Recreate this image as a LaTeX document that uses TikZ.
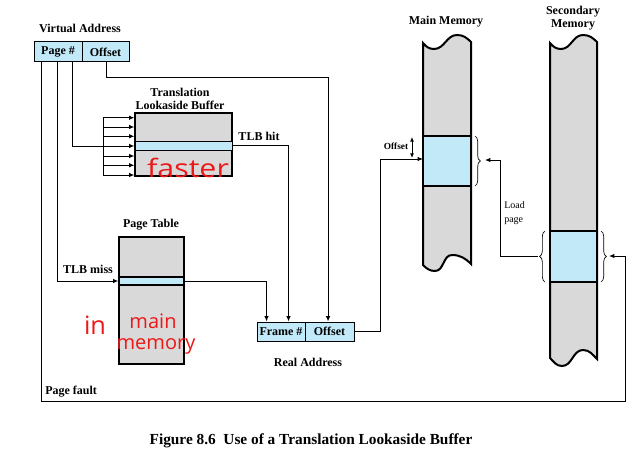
\documentclass[tikz,border=0pt]{standalone}
\usepackage{fontspec}
\setmainfont{Liberation Serif}
\newfontfamily\handfont{Open Sans}
\usetikzlibrary{arrows.meta,decorations.pathreplacing}
\definecolor{cellblue}{RGB}{193,233,248}
\definecolor{memgray}{RGB}{217,217,217}
\definecolor{inkred}{RGB}{236,24,24}
\begin{document}
\begin{tikzpicture}[x=0.75pt,y=-0.75pt,
  conn/.style={line width=0.75pt},
  arr/.style={-{Latex[length=4pt,width=3.4pt]}},
  lbl/.style={font=\fontsize{9}{10.5}\selectfont\bfseries, inner sep=0pt},
  small/.style={font=\fontsize{7.5}{8.5}\selectfont, inner sep=0pt},
  cell/.style={draw, line width=0.75pt, fill=cellblue, minimum height=15pt, inner sep=0pt, font=\fontsize{9}{10}\selectfont\bfseries},
  rowcell/.style={draw, fill=cellblue, inner sep=0pt},
  tablebox/.style={draw, fill=memgray, inner sep=0pt},
  memcol/.style={fill=memgray, draw, line width=1.5pt},
  bracestyle/.style={decorate, decoration={brace, amplitude=4pt}, line width=0.5pt},
  hand/.style={text=inkred, inner sep=0pt, font=\handfont\fontsize{19}{19}\selectfont}
]
\useasboundingbox (0,0) rectangle (638,460);

% Virtual address
\node[lbl] (vat) at (80,28) {Virtual Address};
\node[cell, minimum width=36pt] (pg) at (58,52) {Page \#};
\node[cell, minimum width=35.25pt] (of) at (105.5,52) {Offset};

% TLB
\node[lbl, align=center] (tlbt) at (180,99) {Translation\\[-1pt]Lookaside Buffer};
\node[tablebox, line width=0.9pt, minimum width=72.75pt, minimum height=47.25pt] (tlb) at (183.5,144.5) {};
\node[rowcell, line width=0.75pt, minimum width=72.75pt, minimum height=6.75pt] (tlbrow) at (183.5,145.5) {};

% Page table
\node[lbl] (ptt) at (151,225) {Page Table};
\node[tablebox, line width=1.6pt, minimum width=48.75pt, minimum height=95.25pt] (pt) at (151.5,300.5) {};
\node[rowcell, line width=1pt, minimum width=48.75pt, minimum height=6pt] (ptrow) at (151.5,281) {};

% Real address
\node[cell, minimum width=36pt, minimum height=14.25pt] (fr) at (281,331.5) {Frame \#};
\node[cell, minimum width=36.75pt, minimum height=14.25pt] (ro) at (329.5,331.5) {Offset};
\node[lbl] (rat) at (308,362) {Real Address};

% Main memory
\node[lbl] (mmt) at (446,22) {Main Memory};
\filldraw[memcol] (423,43) to[out=-50,in=180] (434,49) to[out=0,in=180] (457,35) to[out=0,in=135] (471,42)
  -- (471,264) to[out=135,in=0] (452,255) to[out=180,in=0] (435,271) to[out=180,in=-45] (423,265) -- cycle;
\node[rowcell, line width=1.5pt, minimum width=36pt, minimum height=37.5pt] (mmb) at (447,161) {};

% Secondary memory
\node[lbl, align=center] (smt) at (573,18) {Secondary\\[-1pt]Memory};
\filldraw[memcol] (550,43) to[out=-50,in=180] (561,49) to[out=0,in=180] (583,35) to[out=0,in=135] (597,42)
  -- (597,359) to[out=135,in=0] (583,350) to[out=180,in=0] (562,366) to[out=180,in=-45] (550,358) -- cycle;
\node[rowcell, line width=1.5pt, minimum width=35.25pt, minimum height=38.25pt] (smb) at (573.5,256.5) {};

% braces
\draw[bracestyle] (475,136) -- (475,186);
\draw[bracestyle] (545,282) -- (545,231);
\draw[bracestyle] (601,231) -- (601,282);

% fan into TLB
\foreach \i/\yy in {1/117.7,2/127,3/136.3,4/146,5/156,6/165.3,7/175}{
  \coordinate (f\i) at (103,\yy);
}
\draw[conn] (f1) -- (f7);
\foreach \i in {1,...,7}{
  \draw[conn,arr] (f\i) -- (f\i -| tlb.west);
}

% page number lines
\draw[conn] ([xshift=29.25pt]pg.south west) |- (f4);
\draw[conn,arr] ([xshift=18pt]pg.south west) |- (ptrow.west);
\coordinate (pfcorner) at (625,401);
\coordinate (sbR) at (609,256);
\draw[conn,arr] ([xshift=6pt]pg.south west) |- (pfcorner) |- (sbR);

% offset line
\draw[conn,arr] ([xshift=18.75pt]of.south west) -- ++(0,15) -| ([xshift=-1.1pt]ro.north);

% TLB hit and page table out
\draw[conn,arr] (tlbrow.east) -| ([xshift=24pt]fr.north west);
\draw[conn,arr] (ptrow.east) -| ([xshift=7.5pt]fr.north west);

% real address to main memory
\coordinate (mmturn) at (380,159);
\coordinate (mmin) at (423,159);
\draw[conn,arr] (ro.east) -| (mmturn) -- (mmin);
\coordinate (oa) at (412,137);
\coordinate (ob) at (412,158);
\draw[conn,{Latex[length=3.5pt,width=3pt]}-{Latex[length=3.5pt,width=3pt]}] (oa) -- (ob);
\node[font=\fontsize{7}{8}\selectfont\bfseries, inner sep=0pt] (offl) at (396,146) {Offset};

% load page
\coordinate (sbL) at (538,256);
\coordinate (lpturn) at (500,160);
\coordinate (mbtip) at (485,160);
\draw[conn,arr] (sbL) -| (lpturn) -- (mbtip);
\node[small, align=left, anchor=north west] (lpl) at (504,201) {Load\\[2pt]page};

% labels
\node[lbl] (hit) at (259,136) {TLB hit};
\node[lbl] (miss) at (88,269) {TLB miss};
\node[lbl, anchor=west] (pf) at (45,392) {Page fault};

% caption
\node[font=\fontsize{11.5}{13}\selectfont\bfseries, inner sep=0pt] (cap) at (311,441) {Figure 8.6\ \ Use of a Translation Lookaside Buffer};

% handwritten notes
\node[hand, xscale=1.2] (hw1) at (188,168) {faster};
\node[hand] (hw2) at (95,325) {in};
\node[hand, font=\handfont\fontsize{15}{15}\selectfont] (hw3) at (153,321) {main};
\node[hand, font=\handfont\fontsize{15}{15}\selectfont] (hw4) at (156,346) {memory};
\end{tikzpicture}
\end{document}
